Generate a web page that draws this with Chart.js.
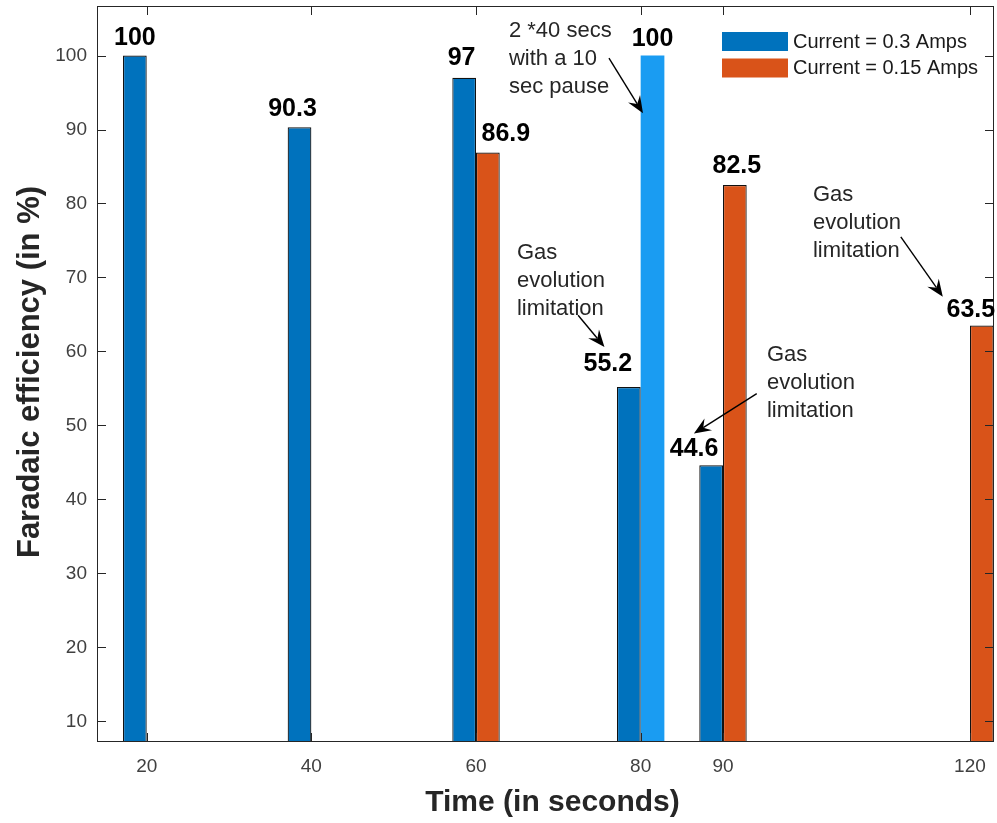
<!DOCTYPE html>
<html>
<head>
<meta charset="utf-8">
<script src="https://cdn.jsdelivr.net/npm/chart.js@4/dist/chart.umd.min.js"></script>
<style>
  html, body { margin: 0; padding: 0; background: #ffffff; }
  #wrap { width: 997px; height: 823px; position: relative; }
</style>
</head>
<body>
<div id="wrap"><canvas id="chart" width="997" height="823"></canvas></div>
<script>
// Run durations (s) and the x-axis tick values
const times = [20, 40, 60, 80, 90, 120];
const yTicks = [10, 20, 30, 40, 50, 60, 70, 80, 90, 100];

// Faradaic efficiency (%) per run duration
const current03 = [100, 90.3, 97, 55.2, 44.6, null];   // 0.3 A
const current015 = [null, null, 86.9, null, 82.5, 63.5]; // 0.15 A
const pausedRun = [null, null, null, 100, null, null];   // 2 x 40 s at 0.3 A, 10 s pause

const seriesNames = ['Current = 0.3 Amps', 'Current = 0.15 Amps', '2 x 40 s with pause'];

// Pixel shift of each value label from the top-centre of its bar
const labelShift = {
  0: [[0, -17.5], [-7, -18.5], [-2.6, -19.7], [-21, -23], [-17, -16.6], null],
  1: [null, null, [18, -18.4], null, [2, -19], [-11, -15.5]],
  2: [null, null, null, [0, -16.5], null, null]
};

// Text notes with arrows, in data units (time, efficiency)
const notes = [
  { lines: ['2 *40 secs', 'with a 10', 'sec pause'], at: [64.0, 103.3], from: [76.15, 99.66], to: [80.28, 92.2] },
  { lines: ['Gas', 'evolution', 'limitation'], at: [64.97, 73.3], from: [72.4, 64.9], to: [75.6, 60.6] },
  { lines: ['Gas', 'evolution', 'limitation'], at: [95.34, 59.5], from: [94.1, 54.3], to: [86.47, 48.9] },
  { lines: ['Gas', 'evolution', 'limitation'], at: [100.93, 81.1], from: [111.6, 75.5], to: [116.7, 67.4] }
];

const FONT = '"Liberation Sans", Arial, Helvetica, sans-serif';
const AXIS_COLOR = '#262626';

const toPoints = vals => times
  .map((t, i) => ({ x: t, y: vals[i] }))
  .filter(p => p.y !== null);

// line with a filled, notched arrowhead at (x2, y2)
function drawArrow(ctx, x1, y1, x2, y2) {
  const a = Math.atan2(y2 - y1, x2 - x1);
  const c = Math.cos(a), s = Math.sin(a);
  const L = 17, W = 7, notch = 11;
  ctx.beginPath();
  ctx.moveTo(x1, y1);
  ctx.lineTo(x2 - notch * c, y2 - notch * s);
  ctx.stroke();
  ctx.beginPath();
  ctx.moveTo(x2, y2);
  ctx.lineTo(x2 - L * c + W * s, y2 - L * s - W * c);
  ctx.lineTo(x2 - notch * c, y2 - notch * s);
  ctx.lineTo(x2 - L * c - W * s, y2 - L * s + W * c);
  ctx.closePath();
  ctx.fill();
}

// keep the plot box at fixed edges: no extra room for overhanging tick labels
function fixBox(size, key) {
  return axis => {
    axis[key] = size;
    axis.paddingTop = 0;
    axis.paddingBottom = 0;
    axis.paddingLeft = 0;
    axis.paddingRight = 0;
  };
}

const decorations = {
  id: 'decorations',
  afterDatasetsDraw(chart) {
    const { ctx, chartArea: area, scales: { x, y } } = chart;
    const L = area.left, R = area.right, T = area.top, B = area.bottom;
    ctx.save();

    // axes box with inward ticks on all four sides
    ctx.strokeStyle = AXIS_COLOR;
    ctx.lineWidth = 1;
    ctx.strokeRect(L + 0.5, T + 0.5, R - L - 1, B - T - 1);
    const tl = 9;
    ctx.beginPath();
    yTicks.forEach(v => {
      const py = Math.round(y.getPixelForValue(v)) + 0.5;
      ctx.moveTo(L, py); ctx.lineTo(L + tl, py);
      ctx.moveTo(R, py); ctx.lineTo(R - tl, py);
    });
    times.forEach(v => {
      const px = Math.round(x.getPixelForValue(v)) + 0.5;
      ctx.moveTo(px, B); ctx.lineTo(px, B - tl);
      ctx.moveTo(px, T); ctx.lineTo(px, T + tl);
    });
    ctx.stroke();

    // value labels above the bars
    ctx.fillStyle = '#000000';
    ctx.font = 'bold 25px ' + FONT;
    ctx.textAlign = 'center';
    ctx.textBaseline = 'middle';
    chart.data.datasets.forEach((ds, di) => {
      const meta = chart.getDatasetMeta(di);
      meta.data.forEach((el, k) => {
        const pt = ds.data[k];
        const idx = times.indexOf(pt.x);
        const shift = labelShift[di][idx];
        if (!shift) return;
        const { x: bx, y: by } = el.getProps(['x', 'y'], true);
        ctx.fillText(String(pt.y), bx + shift[0], by + shift[1]);
      });
    });

    // notes and arrows
    ctx.fillStyle = '#262626';
    ctx.strokeStyle = '#000000';
    ctx.lineWidth = 1.4;
    ctx.font = '22px ' + FONT;
    ctx.textAlign = 'left';
    notes.forEach(n => {
      const tx = x.getPixelForValue(n.at[0]);
      const ty = y.getPixelForValue(n.at[1]);
      n.lines.forEach((line, i) => ctx.fillText(line, tx, ty + i * 28));
    });
    ctx.fillStyle = '#000000';
    notes.forEach(n => {
      drawArrow(ctx,
        x.getPixelForValue(n.from[0]), y.getPixelForValue(n.from[1]),
        x.getPixelForValue(n.to[0]), y.getPixelForValue(n.to[1]));
    });

    // legend (first two series)
    const lx = R - 272, ly = T + 26;
    ctx.font = '20px ' + FONT;
    ctx.textBaseline = 'middle';
    [0, 1].forEach(i => {
      const ds = chart.data.datasets[i];
      ctx.fillStyle = ds.backgroundColor;
      ctx.fillRect(lx, ly + i * 26.5, 66, 19);
      ctx.fillStyle = '#1a1a1a';
      ctx.fillText(ds.label, lx + 71, ly + 10 + i * 26.5);
    });

    // axis titles
    ctx.fillStyle = AXIS_COLOR;
    ctx.textAlign = 'center';
    ctx.textBaseline = 'alphabetic';
    ctx.font = 'bold 30px ' + FONT;
    ctx.fillText('Time (in seconds)', (L + R) / 2 + 7, 811);
    ctx.save();
    ctx.translate(39, (T + B) / 2 - 2);
    ctx.rotate(-Math.PI / 2);
    ctx.font = 'bold 31px ' + FONT;
    ctx.fillText('Faradaic efficiency (in %)', 0, 0);
    ctx.restore();

    ctx.restore();
  }
};

new Chart(document.getElementById('chart'), {
  type: 'bar',
  data: {
    datasets: [
      { label: seriesNames[0], data: toPoints(current03), backgroundColor: '#0072BD',
        borderColor: '#111111', borderWidth: 1.2, stack: 'low' },
      { label: seriesNames[1], data: toPoints(current015), backgroundColor: '#D95319',
        borderColor: '#111111', borderWidth: 1.2, stack: 'high' },
      { label: seriesNames[2], data: toPoints(pausedRun), backgroundColor: '#1A9CF2',
        borderWidth: 0, stack: 'high' }
    ]
  },
  options: {
    responsive: false,
    animation: false,
    devicePixelRatio: 1,
    layout: { padding: { top: 6, right: 3, left: 0, bottom: 0 } },
    categoryPercentage: 0.576,
    barPercentage: 1,
    plugins: { legend: { display: false }, tooltip: { enabled: false } },
    scales: {
      x: {
        type: 'linear',
        min: 13.96,
        max: 122.92,
        offset: false,
        grid: { display: false, drawTicks: false },
        border: { display: false },
        afterBuildTicks: axis => { axis.ticks = times.map(v => ({ value: v })); },
        afterFit: fixBox(81, 'height'),
        ticks: { color: '#404040', font: { family: FONT, size: 19 }, padding: 13, maxRotation: 0, autoSkip: false },
        title: { display: false }
      },
      y: {
        type: 'linear',
        min: 7.2,
        max: 106.7,
        stacked: false,
        grid: { display: false, drawTicks: false },
        border: { display: false },
        afterBuildTicks: axis => { axis.ticks = yTicks.map(v => ({ value: v })); },
        afterFit: fixBox(97, 'width'),
        ticks: { color: '#404040', font: { family: FONT, size: 19 }, padding: 10 },
        title: { display: false }
      }
    }
  },
  plugins: [decorations]
});
</script>
</body>
</html>
